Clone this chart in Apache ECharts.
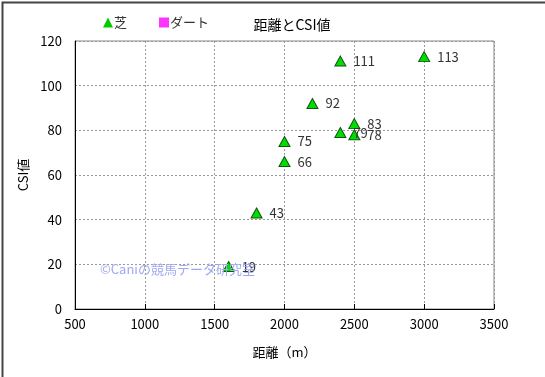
<!DOCTYPE html>
<html lang="ja">
<head>
<meta charset="UTF-8">
<title>距離とCSI値</title>
<script src="https://cdn.jsdelivr.net/npm/echarts@6.0.0/dist/echarts.min.js"></script>
<style>
  body { margin: 0; padding: 0; background: #fff; }
  #chart { width: 545px; height: 377px; }
</style>
</head>
<body>
<div id="chart"></div>
<script>
// 芝 のデータ (距離, CSI値)
var turfDist = [1600, 1800, 2000, 2000, 2200, 2400, 2400, 2500, 2500, 3000];
var turfCsi  = [19, 43, 66, 75, 92, 79, 111, 78, 83, 113];
// ダート (no points)
var dirtDist = [];
var dirtCsi  = [];

var xTicks = [500, 3500, 500];   // min, max, interval
var yTicks = [0, 120, 20];

function pairs(xs, ys) {
  return xs.map(function (x, i) { return [x, ys[i]]; });
}

var font = "'Noto Sans CJK JP', sans-serif";
var chart = echarts.init(document.getElementById('chart'));

var option = {
  animation: false,
  textStyle: { fontFamily: font },
  title: {
    text: '距離とCSI値',
    left: 287, top: 13, textAlign: 'center',
    textStyle: { fontSize: 14, fontWeight: 'normal', color: '#000', fontFamily: font }
  },
  legend: {
    left: 98, top: 11,
    itemGap: 32, itemWidth: 10, itemHeight: 10,
    textStyle: { fontSize: 13, color: '#333', fontFamily: font, padding: [0, 0, 0, -4] },
    data: [
      { name: '芝', icon: 'triangle', itemStyle: { color: '#00cc00', borderWidth: 0 } },
      { name: 'ダート', icon: 'rect', itemStyle: { color: '#ff00ff', borderWidth: 0 } }
    ]
  },
  grid: { left: 75, right: 51, top: 41, bottom: 68, show: true, borderColor: '#888', borderWidth: 1 },
  xAxis: {
    type: 'value', min: xTicks[0], max: xTicks[1], interval: xTicks[2],
    name: '距離（m）', nameLocation: 'middle', nameGap: 37,
    nameTextStyle: { fontSize: 13, color: '#000', fontFamily: font },
    axisLine: { lineStyle: { color: '#000', width: 1 } },
    axisTick: { show: true, inside: true, length: 5, lineStyle: { color: '#000' } },
    axisLabel: { fontSize: 13, color: '#000', margin: 9, fontFamily: font,
      formatter: function (v) { return String(v); } },
    splitLine: { show: true, lineStyle: { color: '#999', type: [2, 2], width: 1 } }
  },
  yAxis: {
    type: 'value', min: yTicks[0], max: yTicks[1], interval: yTicks[2],
    name: 'CSI値', nameLocation: 'middle', nameGap: 42, nameRotate: 90,
    nameTextStyle: { fontSize: 13, color: '#000', fontFamily: font },
    axisLine: { show: true, lineStyle: { color: '#000', width: 1 } },
    axisTick: { show: false },
    axisLabel: { fontSize: 13, color: '#000', margin: 13, fontFamily: font },
    splitLine: { show: true, lineStyle: { color: '#999', type: [2, 2], width: 1 } }
  },
  graphic: [
    {
      type: 'rect', left: 0, top: 0,
      shape: { width: 544, height: 376 },
      style: { fill: 'none', stroke: '#444', lineWidth: 2 },
      silent: true
    },
    {
      type: 'text', left: 100, top: 263, z: 10,
      style: { text: '©Caniの競馬データ研究室', fontSize: 13, fill: '#a0a8f0', fontFamily: font }
    }
  ],
  series: [
    {
      name: '芝', type: 'scatter',
      symbol: 'triangle', symbolSize: [11, 10],
      itemStyle: { color: '#00dd00', borderColor: '#115511', borderWidth: 1, opacity: 1 },
      label: {
        show: true, position: 'right', distance: 7,
        fontSize: 13, color: '#333', fontFamily: font,
        formatter: function (p) { return p.value[1]; }
      },
      data: pairs(turfDist, turfCsi)
    },
    {
      name: 'ダート', type: 'scatter',
      symbol: 'rect', symbolSize: 9,
      itemStyle: { color: '#ff00ff' },
      data: pairs(dirtDist, dirtCsi)
    }
  ]
};
chart.setOption(option);
</script>
</body>
</html>
